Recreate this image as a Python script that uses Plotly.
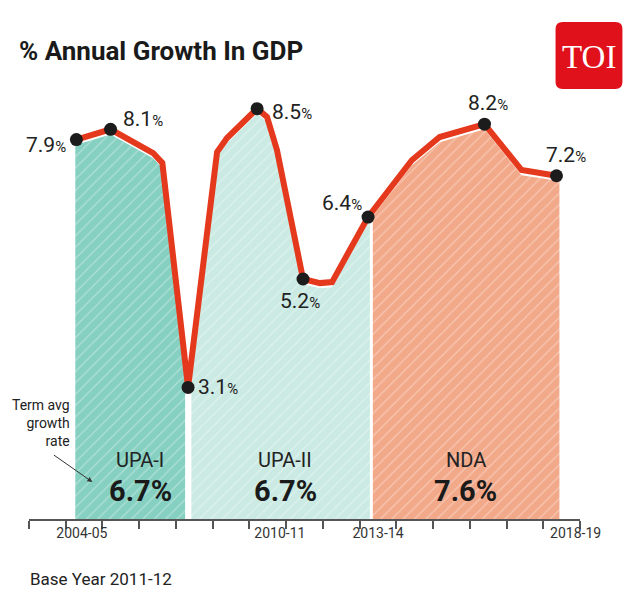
import numpy as np
import plotly.graph_objects as go

# ---------------- data ----------------
# positions along the drawn time axis (axis units, one unit per tick mark) and growth values
pos = [1.29, 2.22, 3.38, 3.63, 4.33, 5.12, 5.39, 6.21, 6.48, 6.75, 7.46, 7.92, 8.25,
       9.23, 10.42, 11.18, 12.40, 13.41, 14.36]
growth = [7.9, 8.1, 7.64, 7.45, 3.1, 7.66, 7.93, 8.5, 8.34, 7.70, 5.2, 5.12, 5.14,
          6.4, 7.50, 7.95, 8.2, 7.31, 7.2]
labelled = [0, 1, 4, 7, 10, 13, 16, 18]

tick_marks = list(range(16))
year_labels = ["2004-05", "2010-11", "2013-14", "2018-19"]
year_label_pos = [1.44, 6.83, 9.50, 14.88]

terms = ["UPA-I", "UPA-II", "NDA"]
term_avg = [6.7, 6.7, 7.6]
term_start = [1.26, 4.42, 9.36]
term_end = [4.25, 9.28, 14.44]
term_colors = ["#86d0c1", "#cbeae3", "#f2a98a"]

# ---------------- figure ----------------
FONT = "Roboto, 'Open Sans', sans-serif"
OFF = 8                      # page body margin of the html wrapper
W, H = 635 - 2 * OFF, 598 - 2 * OFF
# plot area in reference-page pixels
PX0, PX1, PY0, PY1 = 28.5, 580.5, 56, 519
L, R = PX0 - OFF, W - (PX1 - OFF)
T, B = PY0 - OFF, H - (PY1 - OFF)
Y_MIN, Y_MAX = 0.55, 9.52

pw, ph = PX1 - PX0, PY1 - PY0
def px(xp):  # reference page x -> paper
    return (xp - PX0) / pw
def py(yp):  # reference page y -> paper
    return (PY1 - yp) / ph

fig = go.Figure()

# hatched term areas under the line
for name, s, e, col in zip(terms, term_start, term_end, term_colors):
    xs = [s] + [p for p in pos if s < p < e] + [e]
    ys = np.interp(xs, pos, growth) - 0.1
    fig.add_trace(go.Scatter(
        x=xs, y=ys, mode="lines", line=dict(width=0, color=col),
        fill="tozeroy", fillcolor=col,
        fillpattern=dict(shape="/", bgcolor=col, fgcolor="rgba(255,255,255,0.7)",
                         size=8, solidity=0.15),
        hoverinfo="skip", showlegend=False, name=name))

# growth line
fig.add_trace(go.Scatter(x=pos, y=growth, mode="lines",
                         line=dict(color="#e5391d", width=6),
                         showlegend=False, hoverinfo="skip"))
# labelled points
fig.add_trace(go.Scatter(x=[pos[i] for i in labelled], y=[growth[i] for i in labelled],
                         mode="markers", marker=dict(color="#1c1c1c", size=13),
                         showlegend=False))

# value labels: (xanchor, xshift, yshift)
offsets = [("right", -8, -5), ("left", 10, 10), ("left", 8, 0), ("left", 13, -3),
           ("center", -3, -22), ("right", -4, 14), ("center", 4, 21), ("center", 10, 21)]
for i, (xa, xs_, ys_) in zip(labelled, offsets):
    fig.add_annotation(x=pos[i], y=growth[i], xref="x", yref="y", showarrow=False,
                       text=f"{growth[i]:.1f}<span style='font-size:15px'>%</span>",
                       font=dict(family=FONT, size=21, color="#222222"),
                       xanchor=xa, yanchor="middle", xshift=xs_, yshift=ys_)

# term names and averages
term_label_x = [3.03, 6.97, 11.89]
for name, avg, lx in zip(terms, term_avg, term_label_x):
    fig.add_annotation(x=lx, y=1.69, xref="x", yref="y", showarrow=False, text=name,
                       font=dict(family=FONT, size=20, color="#222222"),
                       xanchor="center", yanchor="middle")
    fig.add_annotation(x=lx, y=1.10, xref="x", yref="y", showarrow=False,
                       text=f"<b>{avg:.1f}%</b>",
                       font=dict(family=FONT, size=29, color="#1a1a1a"),
                       xanchor="center", yanchor="middle")

# "Term avg growth rate" note with arrow
fig.add_annotation(x=px(72), y=py(423), xref="paper", yref="paper", showarrow=False,
                   text="Term avg<br>growth<br>rate", align="right",
                   font=dict(family=FONT, size=14, color="#222222"),
                   xanchor="right", yanchor="middle")
fig.add_annotation(x=px(92), y=py(482), xref="paper", yref="paper", text="", showarrow=True,
                   arrowhead=2, arrowsize=1, arrowwidth=1, arrowcolor="#333333",
                   ax=-40, ay=-28)

# title and footer
fig.add_annotation(x=px(16), y=py(51), xref="paper", yref="paper", showarrow=False,
                   text="<b>% Annual Growth In GDP</b>",
                   font=dict(family=FONT, size=26, color="#1a1a1a"),
                   xanchor="left", yanchor="middle")
fig.add_annotation(x=px(27), y=py(579), xref="paper", yref="paper", showarrow=False,
                   text="Base Year 2011-12",
                   font=dict(family=FONT, size=17, color="#222222"),
                   xanchor="left", yanchor="middle")

# TOI logo (rounded red square)
x0, x1, y0, y1, r = 556, 623, 22, 89, 7
path = (f"M {px(x0 + r)},{py(y0)} L {px(x1 - r)},{py(y0)} "
        f"Q {px(x1)},{py(y0)} {px(x1)},{py(y0 + r)} L {px(x1)},{py(y1 - r)} "
        f"Q {px(x1)},{py(y1)} {px(x1 - r)},{py(y1)} L {px(x0 + r)},{py(y1)} "
        f"Q {px(x0)},{py(y1)} {px(x0)},{py(y1 - r)} L {px(x0)},{py(y0 + r)} "
        f"Q {px(x0)},{py(y0)} {px(x0 + r)},{py(y0)} Z")
fig.add_shape(type="path", path=path, xref="paper", yref="paper",
              fillcolor="#e0111b", line=dict(width=0), layer="above")
fig.add_annotation(x=px((x0 + x1) / 2), y=py(57), xref="paper", yref="paper",
                   showarrow=False, text="TOI",
                   font=dict(family="Liberation Serif, DejaVu Serif, serif", size=33,
                             color="white"),
                   xanchor="center", yanchor="middle")

fig.update_layout(
    width=W, height=H, autosize=False,
    margin=dict(l=L, r=R, t=T, b=B, pad=0),
    plot_bgcolor="white", paper_bgcolor="white",
    xaxis=dict(range=[0, 15], showgrid=False, zeroline=False,
               showline=True, linecolor="#555555", linewidth=1.5,
               tickmode="array", tickvals=year_label_pos, ticktext=year_labels,
               ticks="", tickfont=dict(family=FONT, size=14, color="#333333"),
               minor=dict(tickmode="array", tickvals=tick_marks, ticks="outside",
                          ticklen=8, tickwidth=1.5, tickcolor="#555555")),
    yaxis=dict(range=[Y_MIN, Y_MAX], visible=False),
)

fig.write_html("out.html")
